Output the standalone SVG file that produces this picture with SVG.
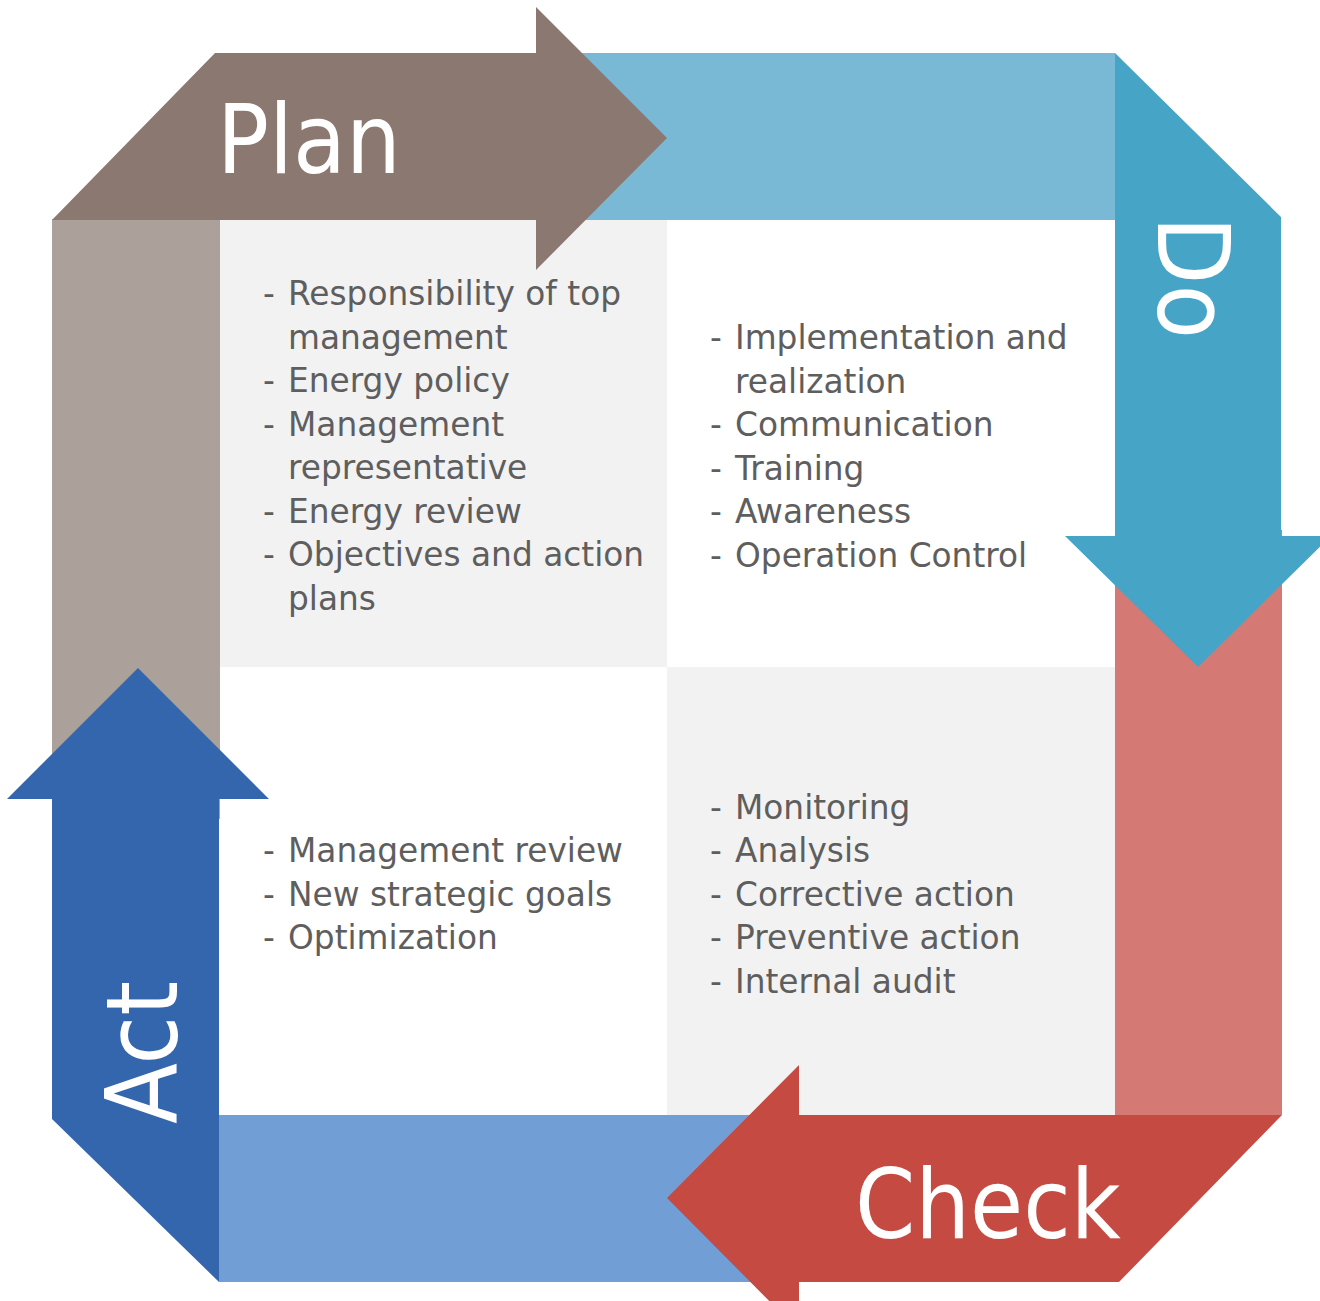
<svg xmlns="http://www.w3.org/2000/svg" width="1320" height="1301" viewBox="0 0 1320 1301">
  <style>
    .item { font-family: "DejaVu Sans", "Liberation Sans", sans-serif; font-size: 32.8px; fill: #5E5E5E; }
    .big { font-family: "DejaVu Sans Condensed", "DejaVu Sans", sans-serif; font-size: 96px; fill: #FFFFFF; }
    .big2 { font-family: "DejaVu Sans Condensed", "DejaVu Sans", sans-serif; font-size: 99px; fill: #FFFFFF; }
  </style>
  <rect width="1320" height="1301" fill="#FFFFFF"/>
  <g id="bands">
    <rect x="52" y="219" width="168" height="600" fill="#ACA09A"/>
    <rect x="530" y="53" width="585" height="167" fill="#79B9D5"/>
    <rect x="1115" y="530" width="167" height="585" fill="#D47974"/>
    <rect x="219" y="1115" width="585" height="167" fill="#729ED6"/>
  </g>
  <g id="panels">
    <rect x="220" y="220" width="447" height="447" fill="#F2F2F2"/>
    <rect x="667" y="667" width="448" height="448" fill="#F2F2F2"/>
  </g>
  <g id="plan">
    <polygon points="215,53 536,53 536,7 667,138 536,270 536,220 52,220" fill="#8B7870"/>
    <text class="big" x="217" y="173">Plan</text>
  </g>
  <g id="do">
    <polygon points="1115,53 1281,217 1281,536 1331,536 1198,667 1065,536 1115,536" fill="#46A4C6"/>
    <text class="big2" transform="translate(1158,216) rotate(90)">Do</text>
  </g>
  <g id="check">
    <polygon points="1282,1115 1119,1282 799,1282 799,1331 667,1198 799,1065 799,1115" fill="#C44A42"/>
    <text class="big" x="855" y="1238">Check</text>
  </g>
  <g id="act">
    <polygon points="52,1119 219,1282 219,799 269,799 138,668 7,799 52,799" fill="#3366AC"/>
    <text class="big2" transform="translate(177,1124) rotate(-90)">Act</text>
  </g>
  <g id="plan-items" class="item">
    <text x="263" y="305">-</text><text x="288" y="305">Responsibility of top</text>
    <text x="288" y="348.5">management</text>
    <text x="263" y="392">-</text><text x="288" y="392">Energy policy</text>
    <text x="263" y="435.5">-</text><text x="288" y="435.5">Management</text>
    <text x="288" y="479">representative</text>
    <text x="263" y="522.5">-</text><text x="288" y="522.5">Energy review</text>
    <text x="263" y="566">-</text><text x="288" y="566">Objectives and action</text>
    <text x="288" y="609.5">plans</text>
  </g>
  <g id="do-items" class="item">
    <text x="710" y="349">-</text><text x="735" y="349">Implementation and</text>
    <text x="735" y="392.5">realization</text>
    <text x="710" y="436">-</text><text x="735" y="436">Communication</text>
    <text x="710" y="479.5">-</text><text x="735" y="479.5">Training</text>
    <text x="710" y="523">-</text><text x="735" y="523">Awareness</text>
    <text x="710" y="566.5">-</text><text x="735" y="566.5">Operation Control</text>
  </g>
  <g id="check-items" class="item">
    <text x="710" y="818.5">-</text><text x="735" y="818.5">Monitoring</text>
    <text x="710" y="862">-</text><text x="735" y="862">Analysis</text>
    <text x="710" y="905.5">-</text><text x="735" y="905.5">Corrective action</text>
    <text x="710" y="949">-</text><text x="735" y="949">Preventive action</text>
    <text x="710" y="992.5">-</text><text x="735" y="992.5">Internal audit</text>
  </g>
  <g id="act-items" class="item">
    <text x="263" y="862">-</text><text x="288" y="862">Management review</text>
    <text x="263" y="905.5">-</text><text x="288" y="905.5">New strategic goals</text>
    <text x="263" y="949">-</text><text x="288" y="949">Optimization</text>
  </g>
  <g id="connectors"></g>
</svg>
